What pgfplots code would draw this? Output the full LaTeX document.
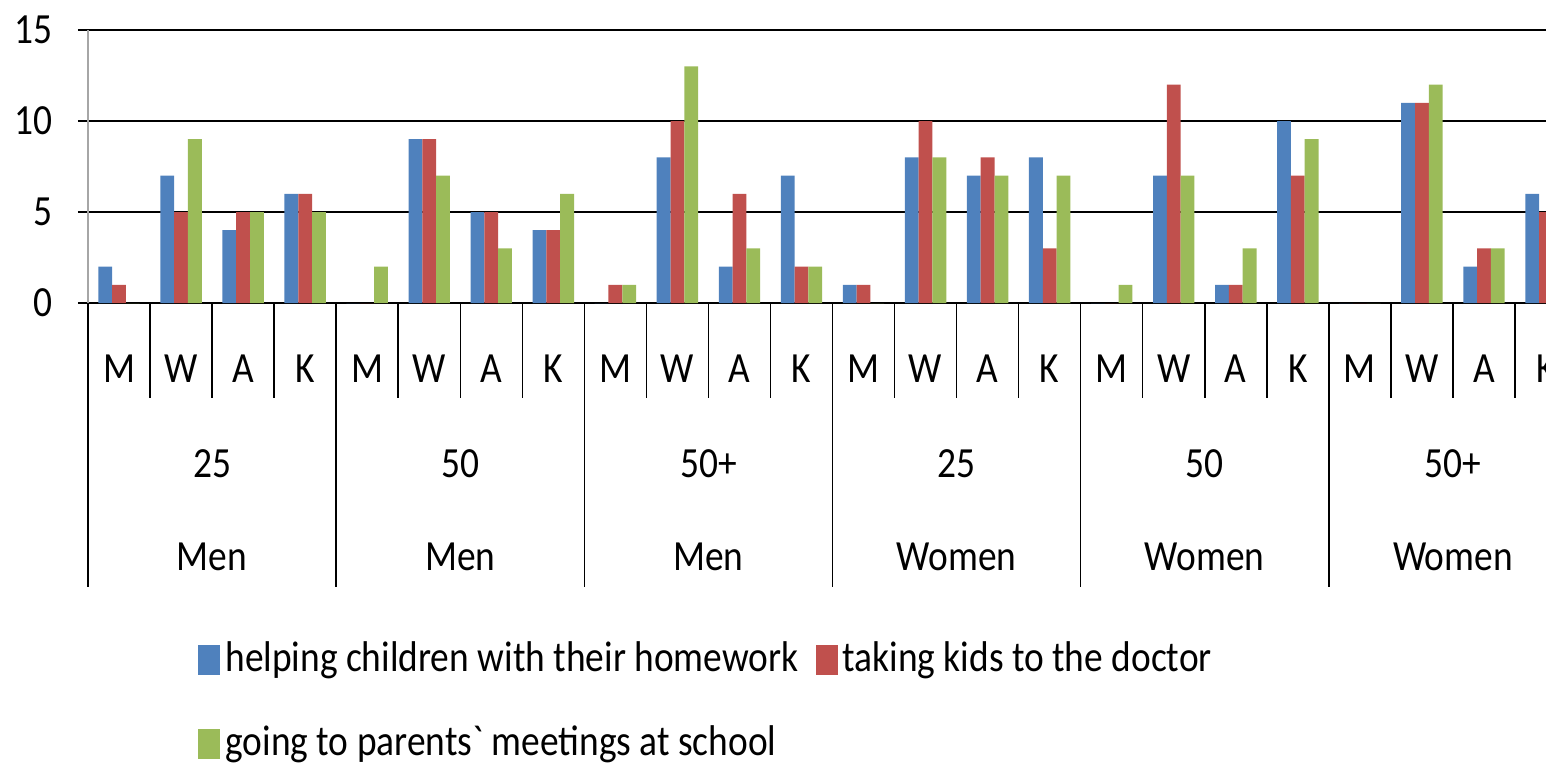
\documentclass[border=0pt]{standalone}
\usepackage{pgfplots}
\pgfplotsset{compat=1.18}
\usepackage{fontspec}
\setmainfont{Carlito}[FakeStretch=0.87, Ligatures=TeXOff]
\definecolor{cblue}{HTML}{4F81BD}
\definecolor{cred}{HTML}{C0504D}
\definecolor{cgreen}{HTML}{9BBB59}
\newcommand{\cf}{\fontsize{21.5}{25}\selectfont}
\begin{document}
\begin{tikzpicture}
\cf
\begin{axis}[name=ax, scale only axis, width=729pt, height=136.5pt,
  xmin=-0.5, xmax=23, ymin=0, ymax=15,
  ybar=0pt, bar width=6.9pt,
  clip mode=individual,
  axis x line*=bottom, axis y line*=left,
  axis line style={-},
  y axis line style={draw=gray!70, line width=0.9pt},
  x axis line style={draw=black, line width=1pt},
  xtick=\empty,
  ytick={0,5,10,15},
  ymajorgrids, grid style={black, line width=1pt},
  major tick length=5pt, tick align=outside,
  tick style={black, line width=0.8pt},
  /pgf/number format/assume math mode=true,
  yticklabel style={font=\cf, xshift=-5.5pt},
  legend columns=2,
  legend style={draw=none, fill=none, at={(axis description cs:0,0)}, anchor=north west,
    xshift=55pt, yshift=-166.5pt, font=\cf, inner sep=0pt, row sep=19pt,
    /tikz/every even column/.append style={column sep=6pt},
    nodes={inner sep=2.5pt}},
  legend cell align=left,
  legend image code/.code={\fill[#1] (0pt,-7.5pt) rectangle (11pt,7.5pt);},
]
\addplot[fill=cblue, draw=none] coordinates {(0,2)(1,7)(2,4)(3,6) (4,0)(5,9)(6,5)(7,4) (8,0)(9,8)(10,2)(11,7) (12,1)(13,8)(14,7)(15,8) (16,0)(17,7)(18,1)(19,10) (20,0)(21,11)(22,2)(23,6)};
\addplot[fill=cred, draw=none] coordinates {(0,1)(1,5)(2,5)(3,6) (4,0)(5,9)(6,5)(7,4) (8,1)(9,10)(10,6)(11,2) (12,1)(13,10)(14,8)(15,3) (16,0)(17,12)(18,1)(19,7) (20,0)(21,11)(22,3)(23,5)};
\addplot[fill=cgreen, draw=none] coordinates {(0,0)(1,9)(2,5)(3,5) (4,2)(5,7)(6,3)(7,6) (8,1)(9,13)(10,3)(11,2) (12,0)(13,8)(14,7)(15,7) (16,1)(17,7)(18,3)(19,9) (20,0)(21,12)(22,3)(23,5)};
\legend{helping children with their homework, taking kids to the doctor, going to parents` meetings at school}
\pgfplotsinvokeforeach{0,4,8,12,16,20}{
  \draw[black, line width=0.75pt] (axis cs:#1-0.5,0) -- ([yshift=-142pt]axis cs:#1-0.5,0);
  \draw[black, line width=0.75pt] (axis cs:#1+0.5,0) -- ([yshift=-47.5pt]axis cs:#1+0.5,0);
  \draw[black, line width=0.75pt] (axis cs:#1+1.5,0) -- ([yshift=-47.5pt]axis cs:#1+1.5,0);
  \draw[black, line width=0.75pt] (axis cs:#1+2.5,0) -- ([yshift=-47.5pt]axis cs:#1+2.5,0);
  \node[anchor=base, inner sep=0pt] at ([yshift=-39.5pt]axis cs:#1,0) {M};
  \node[anchor=base, inner sep=0pt] at ([yshift=-39.5pt]axis cs:#1+1,0) {W};
  \node[anchor=base, inner sep=0pt] at ([yshift=-39.5pt]axis cs:#1+2,0) {A};
  \node[anchor=base, inner sep=0pt] at ([yshift=-39.5pt]axis cs:#1+3,0) {K};
}
\node[anchor=base, inner sep=0pt] at ([yshift=-87pt]axis cs:1.5,0) {25};
\node[anchor=base, inner sep=0pt] at ([yshift=-87pt]axis cs:5.5,0) {50};
\node[anchor=base, inner sep=0pt] at ([yshift=-87pt]axis cs:9.5,0) {50+};
\node[anchor=base, inner sep=0pt] at ([yshift=-87pt]axis cs:13.5,0) {25};
\node[anchor=base, inner sep=0pt] at ([yshift=-87pt]axis cs:17.5,0) {50};
\node[anchor=base, inner sep=0pt] at ([yshift=-87pt]axis cs:21.5,0) {50+};
\node[anchor=base, inner sep=0pt] at ([yshift=-133.5pt]axis cs:1.5,0) {Men};
\node[anchor=base, inner sep=0pt] at ([yshift=-133.5pt]axis cs:5.5,0) {Men};
\node[anchor=base, inner sep=0pt] at ([yshift=-133.5pt]axis cs:9.5,0) {Men};
\node[anchor=base, inner sep=0pt] at ([yshift=-133.5pt]axis cs:13.5,0) {Women};
\node[anchor=base, inner sep=0pt] at ([yshift=-133.5pt]axis cs:17.5,0) {Women};
\node[anchor=base, inner sep=0pt] at ([yshift=-133.5pt]axis cs:21.5,0) {Women};
\end{axis}
\pgfresetboundingbox
\path[use as bounding box] ([xshift=-44pt, yshift=-232.5pt]ax.south west) rectangle ([xshift=729pt, yshift=151.5pt]ax.south west);
\end{tikzpicture}
\end{document}
